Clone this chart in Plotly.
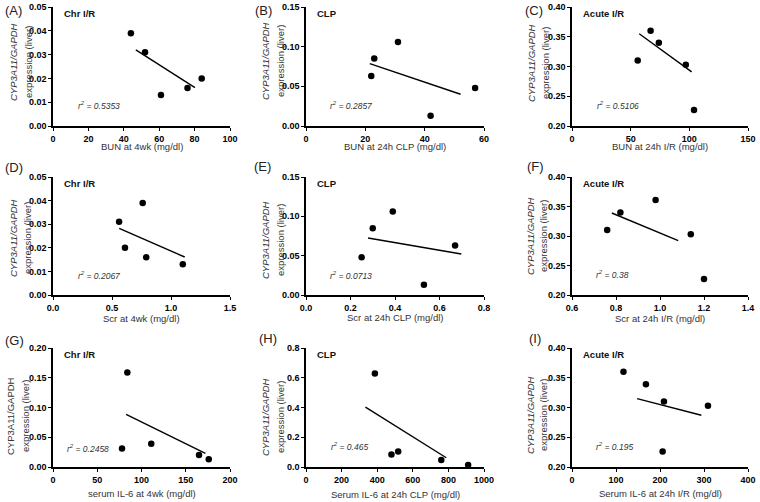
import plotly.graph_objects as go

# ---------------- data ----------------
# (A) Chr I/R vs BUN at 4wk
a_x = [44, 52, 61, 76, 84]
a_y = [0.039, 0.031, 0.013, 0.016, 0.020]
a_fit_x = [46.8, 80.2]
a_fit_y = [0.0320, 0.0161]
# (B) CLP vs BUN at 24h
b_x = [22, 23, 31, 42, 57]
b_y = [0.063, 0.085, 0.106, 0.013, 0.048]
b_fit_x = [21.5, 52.1]
b_fit_y = [0.0786, 0.0400]
# (C) Acute I/R vs BUN at 24h
c_x = [56, 67, 74, 97, 104]
c_y = [0.310, 0.360, 0.340, 0.303, 0.227]
c_fit_x = [57.3, 102]
c_fit_y = [0.355, 0.291]
# (D) Chr I/R vs Scr at 4wk
d_x = [0.56, 0.61, 0.76, 0.79, 1.10]
d_y = [0.031, 0.020, 0.039, 0.016, 0.013]
d_fit_x = [0.561, 1.116]
d_fit_y = [0.0282, 0.0161]
# (E) CLP vs Scr at 24h
e_x = [0.25, 0.30, 0.39, 0.53, 0.67]
e_y = [0.048, 0.085, 0.106, 0.013, 0.063]
e_fit_x = [0.279, 0.698]
e_fit_y = [0.0725, 0.0521]
# (F) Acute I/R vs Scr at 24h
f_x = [0.76, 0.82, 0.98, 1.14, 1.20]
f_y = [0.310, 0.340, 0.361, 0.303, 0.227]
f_fit_x = [0.781, 1.083]
f_fit_y = [0.339, 0.292]
# (G) Chr I/R vs serum IL-6 at 4wk
g_x = [78, 84, 111, 165, 176]
g_y = [0.031, 0.159, 0.039, 0.020, 0.013]
g_fit_x = [82.6, 172.2]
g_fit_y = [0.0885, 0.0231]
# (H) CLP vs serum IL-6 at 24h
h_x = [387, 480, 518, 760, 911]
h_y = [0.629, 0.084, 0.104, 0.047, 0.013]
h_fit_x = [334, 788]
h_fit_y = [0.402, 0.062]
# (I) Acute I/R vs serum IL-6 at 24h
i_x = [117, 168, 209, 206, 309]
i_y = [0.360, 0.339, 0.310, 0.226, 0.303]
i_fit_x = [148, 294]
i_fit_y = [0.315, 0.287]

panel_labels = ["(A)", "(B)", "(C)", "(D)", "(E)", "(F)", "(G)", "(H)", "(I)"]
panel_titles = ["Chr I/R", "CLP", "Acute I/R"] * 3
r2_texts = ["0.5353", "0.2857", "0.5106", "0.2067", "0.0713", "0.38", "0.2458", "0.465", "0.195"]
x_titles = ["BUN at 4wk (mg/dl)", "BUN at 24h CLP (mg/dl)", "BUN at 24h I/R (mg/dl)",
            "Scr at 4wk (mg/dl)", "Scr at 24h CLP (mg/dl)", "Scr at 24h I/R (mg/dl)",
            "serum IL-6 at 4wk (mg/dl)", "Serum IL-6 at 24h CLP (mg/dl)", "Serum IL-6 at 24h I/R (mg/dl)"]
y_title_line1 = ["<i>CYP3A11/GAPDH</i>"] * 6 + ["CYP3A11/GAPDH", "<i>CYP3A11/GAPDH</i>", "<i>CYP3A11/GAPDH</i>"]
y_title_line2 = ["expression (liver)"] * 9

x_ranges = [[0, 100], [0, 60], [0, 150], [0, 1.5], [0, 0.8], [0.6, 1.4], [0, 200], [0, 1000], [0, 400]]
x_dticks = [20, 20, 50, 0.5, 0.2, 0.2, 50, 200, 100]
y_ranges = [[0, 0.05], [0, 0.15], [0.2, 0.4], [0, 0.05], [0, 0.15], [0.2, 0.4], [0, 0.2], [0, 0.8], [0.2, 0.4]]
y_dticks = [0.01, 0.05, 0.05, 0.01, 0.05, 0.05, 0.05, 0.2, 0.05]

xs = [a_x, b_x, c_x, d_x, e_x, f_x, g_x, h_x, i_x]
ys = [a_y, b_y, c_y, d_y, e_y, f_y, g_y, h_y, i_y]
fxs = [a_fit_x, b_fit_x, c_fit_x, d_fit_x, e_fit_x, f_fit_x, g_fit_x, h_fit_x, i_fit_x]
fys = [a_fit_y, b_fit_y, c_fit_y, d_fit_y, e_fit_y, f_fit_y, g_fit_y, h_fit_y, i_fit_y]

# ---------------- layout geometry (pixels) ----------------
W, H = 760, 502
col_px = [(53, 230), (306, 484), (572, 748)]
row_px = [(7, 126), (177, 295), (348, 467)]
label_pos = [(3, 11), (253, 11), (523, 11), (3, 168), (252, 167), (525, 167), (3, 340), (257, 338), (527, 338)]
# (line1 x, line2 x, centre y) of the rotated y titles
ytitle_pos = [(13, 28, 62), (265, 280, 61), (531, 545, 63),
              (13, 27, 238), (265, 280, 240), (530, 543, 236),
              (10, 25, 416), (265, 280, 417), (530, 543, 415)]
xtitle_y = [147, 147, 147, 318, 317, 318, 493, 494, 493]
r2_pos = [(0.13, 0.17), (0.126, 0.17), (0.128, 0.17), (0.13, 0.168), (0.126, 0.167),
          (0.126, 0.175), (0.07, 0.155), (0.127, 0.172), (0.126, 0.169)]

FONT = "Liberation Sans, Arial, sans-serif"
TXT = "#333333"

fig = go.Figure()
annotations = []
layout = dict(
    template="none",
    width=W, height=H, margin=dict(l=0, r=0, t=0, b=0, autoexpand=False),
    paper_bgcolor="white", plot_bgcolor="white", showlegend=False,
    font=dict(family=FONT, color="black", size=10),
)

for k in range(9):
    r, c = divmod(k, 3)
    sfx = "" if k == 0 else str(k + 1)
    xa, ya = "x" + sfx, "y" + sfx
    x0, x1 = col_px[c]
    y0, y1 = row_px[r]
    xdec = 1 if x_dticks[k] < 1 else 0
    ydec = 1 if y_dticks[k] >= 0.1 else 2
    common = dict(
        showline=True, linecolor="black", linewidth=1.5, automargin=False,
        ticks="outside", ticklen=3, tickwidth=1.2, tickcolor="black", showgrid=False, zeroline=False,
        tickfont=dict(family=FONT, size=9, color="black", weight="bold"), fixedrange=True,
    )
    layout["xaxis" + sfx] = dict(
        domain=[x0 / W, x1 / W], anchor=ya, range=x_ranges[k], dtick=x_dticks[k],
        tick0=x_ranges[k][0], tickformat=f".{xdec}f", **common,
    )
    layout["yaxis" + sfx] = dict(
        domain=[1 - y1 / H, 1 - y0 / H], anchor=xa, range=y_ranges[k], dtick=y_dticks[k],
        tick0=y_ranges[k][0], tickformat=f".{ydec}f", **common,
    )
    fig.add_trace(go.Scatter(
        x=xs[k], y=ys[k], mode="markers", xaxis=xa, yaxis=ya, cliponaxis=False,
        marker=dict(color="black", size=6.5, line=dict(width=0)),
    ))
    fig.add_trace(go.Scatter(
        x=fxs[k], y=fys[k], mode="lines", xaxis=xa, yaxis=ya,
        line=dict(color="black", width=1.4),
    ))
    # panel letter
    lx, ly = label_pos[k]
    annotations.append(dict(xref="paper", yref="paper", x=lx / W, y=1 - ly / H, text=panel_labels[k],
                            showarrow=False, xanchor="left", yanchor="middle",
                            font=dict(family=FONT, size=13, color="#222222")))
    # panel title
    annotations.append(dict(xref=xa + " domain", yref=ya + " domain", x=0.05, y=0.945,
                            text="<b>" + panel_titles[k] + "</b>", showarrow=False,
                            xanchor="left", yanchor="middle", font=dict(family=FONT, size=9.5, color="#111111")))
    # r^2
    rx, ry = r2_pos[k]
    annotations.append(dict(xref=xa + " domain", yref=ya + " domain", x=rx, y=ry,
                            text="<i>r<sup>2</sup> = " + r2_texts[k] + "</i>", showarrow=False,
                            xanchor="left", yanchor="middle", font=dict(family=FONT, size=8.5, color=TXT)))
    # x title
    annotations.append(dict(xref="paper", yref="paper", x=(x0 + x1) / 2 / W, y=1 - xtitle_y[k] / H,
                            text=x_titles[k], showarrow=False, xanchor="center", yanchor="middle",
                            font=dict(family=FONT, size=9.5, color=TXT)))
    # y title (two rotated lines)
    t1x, t2x, ty = ytitle_pos[k]
    for txt, tx in ((y_title_line1[k], t1x), (y_title_line2[k], t2x)):
        annotations.append(dict(xref="paper", yref="paper", x=tx / W, y=1 - ty / H, text=txt,
                                showarrow=False, textangle=-90, xanchor="center", yanchor="middle",
                                font=dict(family=FONT, size=9.5, color=TXT)))

layout["annotations"] = annotations
fig.update_layout(**layout)
fig.write_html("out.html", config={"displayModeBar": False},
               post_script="document.body.style.margin='0px';document.body.style.padding='0px';")
